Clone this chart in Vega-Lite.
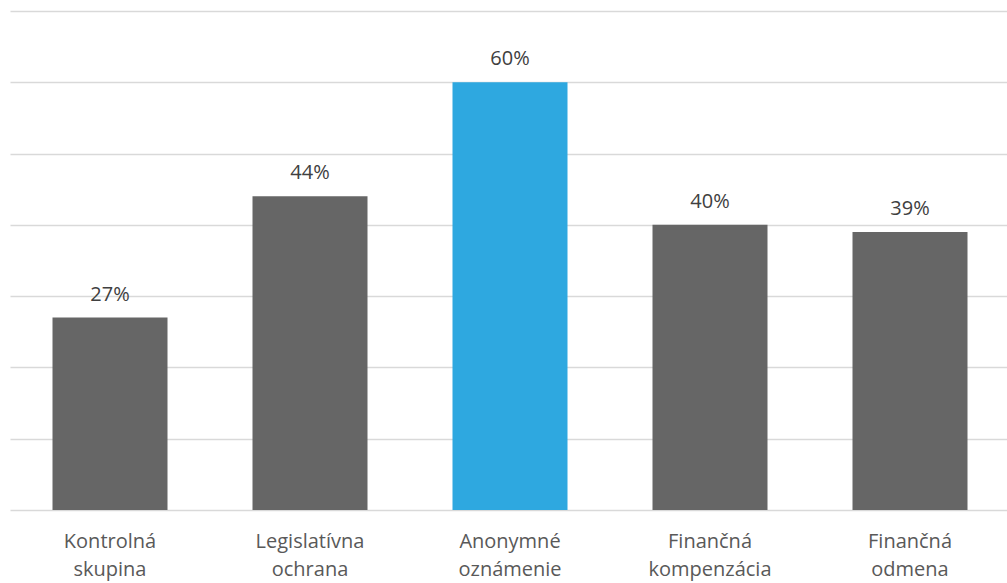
{
  "$schema": "https://vega.github.io/schema/vega-lite/v6.json",
  "width": 1000,
  "height": 499,
  "autosize": {"type": "none"},
  "padding": {"left": 10, "top": 11, "right": 0, "bottom": 73},
  "background": "white",
  "config": {"view": {"stroke": null}, "font": "Open Sans"},
  "data": {"values": [
    {"cat": "Kontrolná skupina", "val": 0.27, "hl": "n"},
    {"cat": "Legislatívna ochrana", "val": 0.44, "hl": "n"},
    {"cat": "Anonymné oznámenie", "val": 0.60, "hl": "y"},
    {"cat": "Finančná kompenzácia", "val": 0.40, "hl": "n"},
    {"cat": "Finančná odmena", "val": 0.39, "hl": "n"}
  ]},
  "encoding": {
    "x": {"field": "cat", "type": "nominal", "sort": null,
      "scale": {"paddingInner": 0.425, "paddingOuter": 0.2125},
      "axis": {"title": null, "domain": false, "ticks": false, "labelAngle": 0,
        "labelExpr": "split(datum.label, ' ')", "labelFontSize": 20, "labelColor": "#595959",
        "labelLineHeight": 28, "labelPadding": 21, "labelFont": "Open Sans"}},
    "y": {"field": "val", "type": "quantitative",
      "scale": {"domain": [0, 0.7], "nice": false},
      "axis": {"title": null, "labels": false, "ticks": false, "domain": false,
        "values": [0, 0.1, 0.2, 0.3, 0.4, 0.5, 0.6, 0.7], "gridColor": "#d9d9d9", "gridWidth": 1.5}}
  },
  "layer": [
    {"mark": {"type": "bar"},
      "encoding": {"color": {"field": "hl", "type": "nominal", "legend": null,
        "scale": {"domain": ["n", "y"], "range": ["#666666", "#2EA8E0"]}}}},
    {"mark": {"type": "text", "dy": -17, "baseline": "alphabetic", "fontSize": 20, "color": "#404040", "font": "Open Sans"},
      "encoding": {"text": {"field": "val", "type": "quantitative", "format": ".0%"}}}
  ]
}
